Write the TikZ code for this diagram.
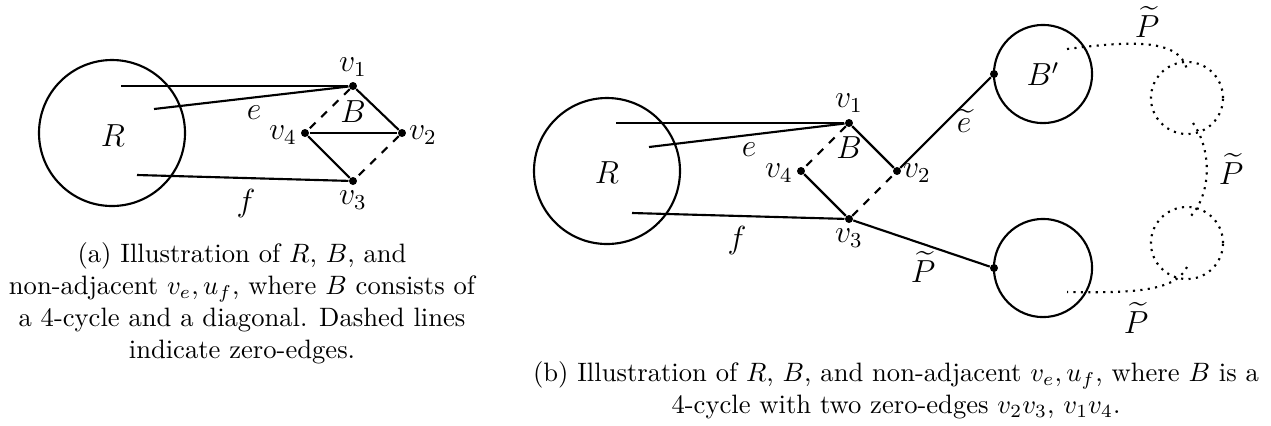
\documentclass[tikz,border=0pt]{standalone}
\usepackage{amsmath}
\begin{document}
\begin{tikzpicture}[x=0.376pt,y=-0.376pt,
  vtx/.style={circle,fill,inner sep=0pt,minimum size=3pt},
  solidedge/.style={thick},
  zeroedge/.style={thick,dashed},
  blob/.style={circle,draw,thick,inner sep=0pt,minimum size=#1},
  blob/.default=54.9pt,
  ghost/.style={circle,draw,thick,dotted,inner sep=0pt,minimum size=27.1pt},
  dotpath/.style={thick,dotted},
  lab/.style={font=\large,inner sep=0pt},
  captext/.style={align=center,inner sep=0pt,anchor=north}]
\useasboundingbox (0,0) rectangle (1271,425);

% ---------- panel (a) ----------
\node[blob] (Ra) at (112,133) {};
\node[lab] at (113,136) {$R$};
\node[vtx] (a1) at (353,86) {};
\node[vtx] (a2) at (402,133) {};
\node[vtx] (a3) at (353,181) {};
\node[vtx] (a4) at (305,133) {};
\coordinate (ae1) at (121,86);
\coordinate (ae2) at (154,109);
\coordinate (af) at (137,175);
\draw[solidedge] (ae1) -- (a1);
\draw[solidedge] (ae2) -- (a1);
\draw[solidedge] (af) -- (a3);
\draw[solidedge] (a1) -- (a2);
\draw[solidedge] (a4) -- (a2);
\draw[solidedge] (a4) -- (a3);
\draw[zeroedge] (a1) -- (a4);
\draw[zeroedge] (a2) -- (a3);
\node[lab] (la1) at (353,67) {$v_1$};
\node[lab] (la2) at (423,135) {$v_2$};
\node[lab] (la3) at (353,200) {$v_3$};
\node[lab] (la4) at (283,135) {$v_4$};
\node[lab] (laB) at (353,112) {$B$};
\node[lab] (lae) at (254,113) {$e$};
\node[lab] (laf) at (246,204) {$f$};
\node[captext] (capa) at (242,242) {(a) Illustration of $R$, $B$, and\\
non-adjacent $v_e,u_f$, where $B$ consists of\\
a 4-cycle and a diagonal. Dashed lines\\
indicate zero-edges.};

% ---------- panel (b) ----------
\node[blob] (Rb) at (607,171) {};
\node[lab] at (607,173) {$R$};
\node[vtx] (b1) at (849,123) {};
\node[vtx] (b2) at (897,171) {};
\node[vtx] (b3) at (849,219) {};
\node[vtx] (b4) at (801,171) {};
\coordinate (be1) at (616,123);
\coordinate (be2) at (649,147);
\coordinate (bf) at (632,213);
\draw[solidedge] (be1) -- (b1);
\draw[solidedge] (be2) -- (b1);
\draw[solidedge] (bf) -- (b3);
\draw[solidedge] (b1) -- (b2);
\draw[solidedge] (b4) -- (b3);
\draw[zeroedge] (b1) -- (b4);
\draw[zeroedge] (b3) -- (b2);

\node[blob=36.9pt] (Bp) at (1043,74) {};
\node[lab] at (1043,74) {$B'$};
\node[blob=36.9pt] (Bq) at (1043,268) {};
\node[vtx] (pa) at (994,74) {};
\node[vtx] (pb) at (994,268) {};
\draw[solidedge] (b2) -- (pa);
\draw[solidedge] (b3) -- (pb);

\node[ghost] (g1) at (1187,98) {};
\node[ghost] (g2) at (1187,243) {};
\coordinate (s1) at (1067,49);
\coordinate (t1) at (1187,70);
\coordinate (s2) at (1193,123);
\coordinate (t2) at (1189,218);
\coordinate (s3) at (1187,267);
\coordinate (t3) at (1067,292);
\draw[dotpath] (s1) .. controls (1130,41) and (1180,38) .. (t1);
\draw[dotpath] (s2) .. controls (1212,150) and (1212,195) .. (t2);
\draw[dotpath] (s3) .. controls (1175,292) and (1130,293) .. (t3);

\node[lab] (lb1) at (849,103) {$v_1$};
\node[lab] (lb2) at (917,173) {$v_2$};
\node[lab] (lb3) at (849,238) {$v_3$};
\node[lab] (lb4) at (779,173) {$v_4$};
\node[lab] (lbB) at (849,148) {$B$};
\node[lab] (lbe) at (749,150) {$e$};
\node[lab] (lbf) at (737,241) {$f$};
\node[lab] (lbt) at (964,121) {$\widetilde{e}$};
\node[lab] (lbP) at (923,267) {$\widetilde{P}$};
\node[lab] (lPt) at (1147,22) {$\widetilde{P}$};
\node[lab] (lPm) at (1231,169) {$\widetilde{P}$};
\node[lab] (lPb) at (1136,318) {$\widetilde{P}$};
\node[captext] (capb) at (896,361) {(b) Illustration of $R$, $B$, and non-adjacent $v_e,u_f$, where $B$ is a\\
4-cycle with two zero-edges $v_2v_3$, $v_1v_4$.};
\end{tikzpicture}
\end{document}
